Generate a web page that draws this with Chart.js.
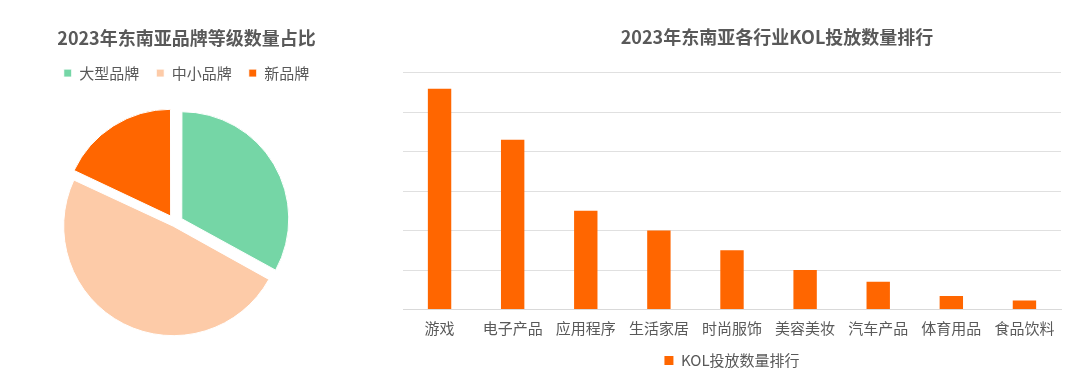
<!DOCTYPE html>
<html>
<head>
<meta charset="utf-8">
<script src="https://cdn.jsdelivr.net/npm/chart.js@4"></script>
<style>
  html, body { margin: 0; padding: 0; background: #fff; overflow: hidden; width: 1080px; height: 373px; }
  #pieBox { position: absolute; left: 0; top: 0; width: 373px; height: 373px; }
  #barBox { position: absolute; left: 380px; top: 0; width: 794px; height: 378px; }
</style>
</head>
<body>
<div id="pieBox"><canvas id="pie"></canvas></div>
<div id="barBox"><canvas id="bar"></canvas></div>
<script>
const brandLabels = ["大型品牌", "中小品牌", "新品牌"]
const brandShares = [33, 49, 18]
const brandColors = ["#75D6A6", "#FDCBA8", "#FF6600"]

const industries = ["游戏", "电子产品", "应用程序", "生活家居", "时尚服饰", "美容美妆", "汽车产品", "体育用品", "食品饮料"]
const kolCounts = [5.59, 4.30, 2.50, 2.0, 1.5, 1.0, 0.7, 0.34, 0.23]

const grey = "#595959"
Chart.defaults.font.family = "'Noto Sans CJK SC', 'Noto Sans', sans-serif"
Chart.defaults.color = grey

// left: brand tier share
new Chart(document.getElementById("pie"), {
  type: "pie",
  data: {
    labels: brandLabels,
    datasets: [{
      data: brandShares,
      backgroundColor: brandColors,
      borderColor: "#fff",
      borderWidth: 1,
      offset: [32, 15, 32],
    }]
  },
  options: {
    animation: false,
    responsive: true,
    maintainAspectRatio: false,
    radius: 106,
    layout: { padding: { bottom: 18 } },
    plugins: {
      title: {
        display: true,
        text: "2023年东南亚品牌等级数量占比",
        color: grey,
        font: { size: 18, weight: "bold" },
        padding: { top: 27, bottom: 0 },
      },
      // empty box on the right pushes the pie a bit left of the title
      subtitle: {
        display: true,
        position: "right",
        fullSize: false,
        text: " ",
        font: { size: 1 },
        padding: { top: 11, bottom: 11 },
      },
      legend: {
        position: "top",
        labels: { boxWidth: 8, boxHeight: 8, padding: 17, color: grey, font: { size: 15 } },
      },
      tooltip: { enabled: false },
    }
  }
})

// right: KOL count by industry
new Chart(document.getElementById("bar"), {
  type: "bar",
  data: {
    labels: industries,
    datasets: [{
      label: "KOL投放数量排行",
      data: kolCounts,
      backgroundColor: "#FF6600",
      barPercentage: 0.32,
      categoryPercentage: 1,
    }]
  },
  options: {
    animation: false,
    responsive: true,
    maintainAspectRatio: false,
    scales: {
      x: {
        grid: { display: false, drawTicks: false },
        border: { display: true, color: "#d9d9d9" },
        ticks: { color: grey, font: { size: 15 }, padding: 10, maxRotation: 0, autoSkip: false },
        afterFit(s) { s.height = 33.5 },
      },
      y: {
        min: 0,
        max: 6,
        ticks: { display: false, stepSize: 1 },
        grid: { color: "#e0e0e0", drawTicks: false },
        border: { display: false },
        afterFit(s) { s.width = 23 },
      },
      yR: {
        position: "right",
        grid: { display: false, drawTicks: false },
        ticks: { display: false },
        border: { display: false },
        afterFit(s) { s.width = 113 },
      },
    },
    plugins: {
      title: {
        display: true,
        text: "2023年东南亚各行业KOL投放数量排行",
        color: grey,
        font: { size: 18, weight: "bold" },
        padding: { top: 26, bottom: 25 },
      },
      legend: {
        position: "bottom",
        fullSize: false,
        labels: { boxWidth: 9, boxHeight: 9, padding: 10, color: grey, font: { size: 15 } },
      },
      tooltip: { enabled: false },
    }
  }
})
</script>
</body>
</html>
